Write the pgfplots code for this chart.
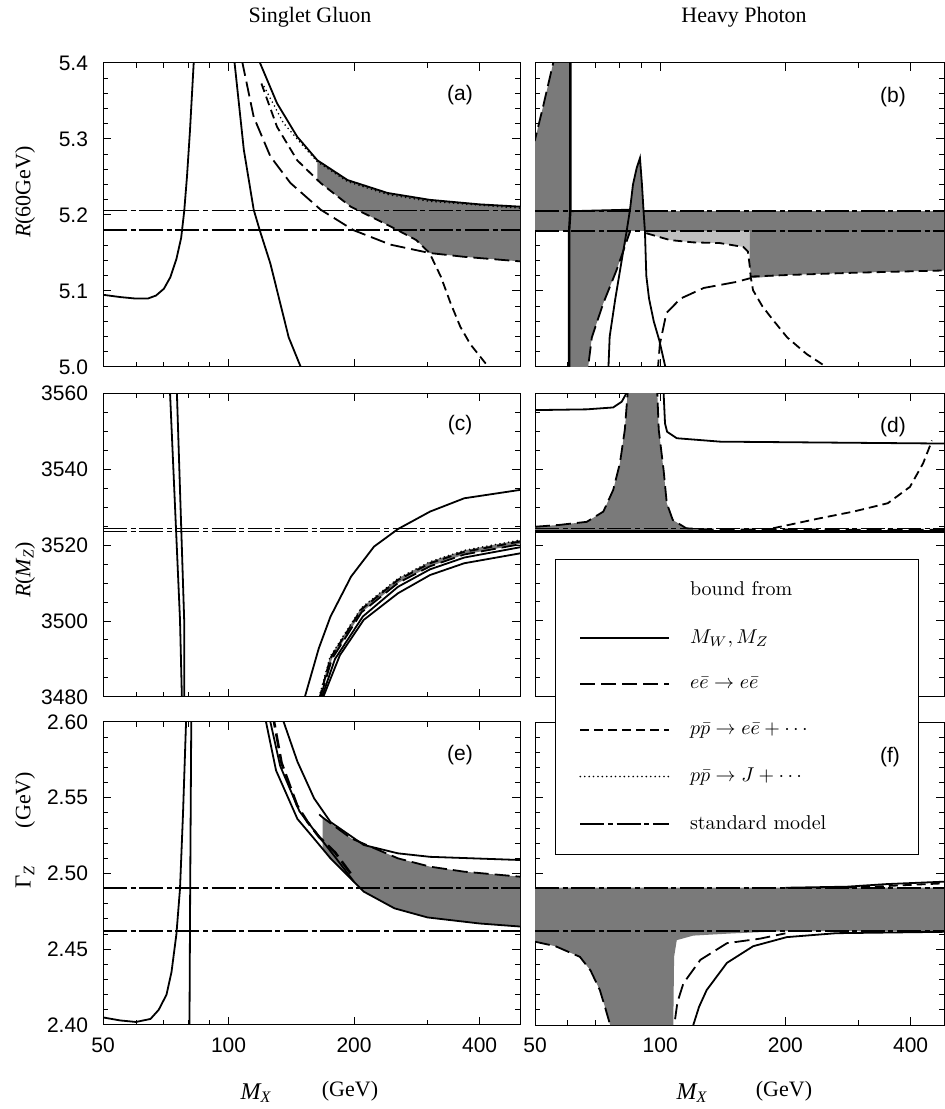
\documentclass[border=0pt]{standalone}
\usepackage{pgfplots}
\pgfplotsset{compat=1.18}
\usepackage{fontspec}
\newfontfamily\tms{Liberation Serif}
\newfontfamily\hv{Liberation Sans}
\definecolor{shadeD}{gray}{0.48}
\definecolor{shadeL}{gray}{0.75}
\tikzset{
  sol/.style={black, line width=0.9pt},
  ldash/.style={black, line width=0.9pt, dash pattern=on 7.5pt off 3pt},
  mdash/.style={black, line width=0.9pt, dash pattern=on 4.5pt off 2.5pt},
  dots/.style={black, line width=0.9pt, line cap=round, dash pattern=on 0pt off 2.2pt},
  smline/.style={black, line width=0.8pt, dash pattern=on 12pt off 1.8pt on 2.5pt off 1.8pt},
}
\begin{document}
\begin{tikzpicture}
\useasboundingbox (0,0) rectangle (472.5pt,554.5pt);
% ---------------- (a)
\begin{axis}[xmode=log, scale only axis, anchor=south west, at={(51.5pt,371pt)},
  width=208.5pt, height=152pt, xmin=50, xmax=500, ymin=5.0, ymax=5.4,
  xtick={50,100,200,400}, xticklabels={}, minor xtick={60,70,80,90,300},
  ytick={5.0,5.1,5.2,5.3,5.4}, yticklabels={5.0,5.1,5.2,5.3,5.4}, minor y tick num=4,
  major tick length=4pt, minor tick length=2.5pt,
  tick style={black, line width=0.5pt}, axis line style={line width=0.5pt},
  tick label style={font=\hv\fontsize{10.5}{12}\selectfont},
  yticklabel style={xshift=-4pt}]
\addplot[fill=shadeD, draw=none] coordinates {(163.3,5.272)(192.9,5.246)(240.6,5.229)(303.4,5.220)(400,5.214)(500,5.211)(500,5.139)(366.8,5.145)(303.4,5.150)(282,5.167)(244.5,5.185)(196.3,5.211)(166.3,5.242)(163.3,5.246)(163.3,5.272)};
\addplot[sol] coordinates {(50,5.095)(55,5.092)(60,5.090)(64,5.090)(67,5.094)(70,5.103)(72.5,5.118)(75,5.142)(77,5.17)(78.3,5.205)(79.5,5.25)(80.8,5.31)(82.5,5.40)(83,5.43)};
\addplot[sol] coordinates {(101,5.44)(103.4,5.40)(108.8,5.286)(114.9,5.207)(118.8,5.180)(126,5.136)(139.4,5.039)(149,5.0)(152,4.99)};
\addplot[ldash] coordinates {(106.5,5.43)(108.0,5.40)(114.9,5.329)(126,5.277)(140.8,5.242)(166.3,5.207)(199.5,5.180)(244.5,5.161)(303.4,5.150)(366.8,5.145)(500,5.139)};
\addplot[sol] coordinates {(116,5.44)(119,5.40)(130.7,5.347)(146.1,5.303)(163.3,5.272)(192.9,5.246)(240.6,5.229)(303.4,5.220)(400,5.214)(500,5.211)};
\addplot[mdash] coordinates {(119.9,5.373)(130.7,5.316)(146.1,5.272)(166.3,5.242)(196.3,5.211)(244.5,5.185)(282,5.167)(303.4,5.150)(322.9,5.119)(340.8,5.084)(359.6,5.053)(380,5.03)(420,5.0)(430,4.99)};
\addplot[dots] coordinates {(121.7,5.369)(135.4,5.321)(151.5,5.290)(163.3,5.270)(192.9,5.244)(240.6,5.227)(303.4,5.218)(500,5.209)};
\addplot[smline] coordinates {(50,5.206)(500,5.206)};
\addplot[smline] coordinates {(50,5.180)(500,5.180)};
\end{axis}
% ---------------- (b)
\begin{axis}[xmode=log, scale only axis, anchor=south west, at={(267.5pt,371pt)},
  width=204.5pt, height=152pt, xmin=50, xmax=481.3, ymin=5.0, ymax=5.4,
  xtick={50,100,200,400}, xticklabels={}, minor xtick={60,70,80,90,300},
  ytick={5.0,5.1,5.2,5.3,5.4}, yticklabels={}, minor y tick num=4,
  major tick length=4pt, minor tick length=2.5pt,
  tick style={black, line width=0.5pt}, axis line style={line width=0.5pt}]
\addplot[fill=shadeD, draw=none] coordinates {(50,5.179)(481.3,5.179)(481.3,5.205)(50,5.205)(50,5.179)};
\addplot[fill=shadeD, draw=none] coordinates {(50,5.205)(50,5.299)(52.3,5.343)(55.3,5.40)(60.8,5.40)(60.8,5.205)(50,5.205)};
\addplot[fill=shadeD, draw=none] coordinates {(60.4,5.179)(60.4,5.0)(67.1,5.0)(68.5,5.039)(73,5.084)(78.6,5.128)(84.6,5.179)(60.4,5.179)};
\addplot[fill=shadeD, draw=none] coordinates {(84.3,5.205)(86,5.24)(87.8,5.262)(89.4,5.275)(90.4,5.24)(91.2,5.205)(84.3,5.205)};
\addplot[fill=shadeL, draw=none] coordinates {(91.9,5.179)(92.6,5.176)(105.6,5.167)(120,5.164)(139.3,5.163)(158.3,5.158)(164,5.152)(164,5.179)(91.9,5.179)};
\addplot[fill=shadeD, draw=none] coordinates {(164,5.179)(164,5.145)(165,5.119)(167.2,5.117)(201.9,5.121)(291.7,5.124)(481.3,5.127)(481.3,5.179)(164,5.179)};
\addplot[ldash] coordinates {(49,5.29)(50,5.299)(52.3,5.343)(55.3,5.40)(56,5.42)};
\addplot[sol, line width=1.2pt] coordinates {(60.8,5.42)(60.8,5.205)(60.4,5.179)(60.4,4.98)};
\addplot[sol] coordinates {(60.8,5.205)(84.6,5.207)};
\addplot[ldash] coordinates {(66.5,4.98)(67.1,5.0)(68.5,5.039)(73,5.084)(78.6,5.128)(84.6,5.178)};
\addplot[sol] coordinates {(75.1,4.99)(75.1,5.0)(75.6,5.04)(78,5.09)(80.5,5.135)(83,5.178)(84.6,5.207)(86,5.24)(87.8,5.262)(89.4,5.275)(90.4,5.24)(91.2,5.205)(91.9,5.178)(92.6,5.12)(94,5.09)(96.5,5.06)(99.5,5.035)(102.9,5.0)(103.5,4.99)};
\addplot[mdash] coordinates {(92.6,5.176)(105.6,5.167)(120,5.164)(139.3,5.163)(158.3,5.158)(162.5,5.152)(164,5.135)(165,5.119)(167.2,5.101)(176,5.08)(186.7,5.062)(201.9,5.039)(225,5.017)(251,5.0)(260,4.99)};
\addplot[mdash] coordinates {(165,5.119)(201.9,5.121)(291.7,5.124)(481.3,5.127)};
\addplot[ldash] coordinates {(98.5,4.99)(98.8,5.0)(99.8,5.03)(103.5,5.071)(111.9,5.090)(127.3,5.104)(152.7,5.112)(165,5.117)};
\addplot[smline] coordinates {(50,5.205)(481.3,5.205)};
\addplot[smline] coordinates {(50,5.179)(481.3,5.179)};
\end{axis}
% ---------------- (c)
\begin{axis}[xmode=log, scale only axis, anchor=south west, at={(51.5pt,206pt)},
  width=208.5pt, height=152pt, xmin=50, xmax=500, ymin=3480, ymax=3560,
  xtick={50,100,200,400}, xticklabels={}, minor xtick={60,70,80,90,300},
  ytick={3480,3500,3520,3540,3560}, yticklabels={3480,3500,3520,3540,3560}, minor y tick num=3,
  major tick length=4pt, minor tick length=2.5pt,
  tick style={black, line width=0.5pt}, axis line style={line width=0.5pt},
  tick label style={font=\hv\fontsize{10.5}{12}\selectfont},
  yticklabel style={xshift=-4pt}]
\addplot[fill=shadeD, draw=none] coordinates {(170,3485.2)(175,3490.5)(207.9,3503.4)(254.9,3511.2)(304.3,3515.6)(367.6,3518.6)(500,3521.3)(500,3520.2)(367.6,3517.5)(304.3,3514.4)(254.9,3510)(208.5,3502.3)(177,3490)(170,3483.5)(170,3485.2)};
\addplot[sol] coordinates {(72.2,3562)(72.4,3560)(76.5,3500.3)(77.3,3480)(77.4,3478)};
\addplot[sol] coordinates {(75.0,3562)(75.2,3560)(78.3,3500)(78.3,3478)};
\addplot[sol] coordinates {(150,3476)(152.4,3480)(164.6,3492.8)(175.5,3501.1)(196.8,3511.7)(223.4,3519.6)(254.9,3524.2)(304.3,3528.8)(367.6,3532.3)(500,3534.5)};
\addplot[mdash] coordinates {(164,3476)(165.5,3480)(175.5,3490.2)(207.9,3503)(254.9,3510.8)(304.3,3515.2)(367.6,3518.2)(500,3520.9)};
\addplot[dots] coordinates {(165,3480)(175,3490.5)(207.9,3503.4)(254.9,3511.2)(304.3,3515.6)(367.6,3518.6)(500,3521.3)};
\addplot[ldash] coordinates {(166.2,3480)(177,3490)(208.5,3502.3)(254.9,3510)(304.3,3514.4)(367.6,3517.5)(500,3520.2)};
\addplot[sol] coordinates {(166,3476)(167.5,3480)(180,3490)(210,3501.2)(254.9,3509)(304.3,3513.6)(367.6,3516.7)(500,3519.4)};
\addplot[sol] coordinates {(167,3476)(168.7,3480)(185,3491)(211,3500.3)(254.9,3507.3)(304.3,3512.1)(367.6,3515.2)(500,3517.8)};
\addplot[smline] coordinates {(50,3524.3)(500,3524.3)};
\addplot[smline] coordinates {(50,3523.6)(500,3523.6)};
\end{axis}
% ---------------- (d)
\begin{axis}[xmode=log, scale only axis, anchor=south west, at={(267.5pt,206pt)},
  width=204.5pt, height=152pt, xmin=50, xmax=481.3, ymin=3480, ymax=3560,
  xtick={50,100,200,400}, xticklabels={}, minor xtick={60,70,80,90,300},
  ytick={3480,3500,3520,3540,3560}, yticklabels={}, minor y tick num=3,
  major tick length=4pt, minor tick length=2.5pt,
  tick style={black, line width=0.5pt}, axis line style={line width=0.5pt}]
\addplot[fill=shadeD, draw=none] coordinates {(50,3524.8)(57.4,3525.3)(66.6,3526.1)(73,3528.8)(77.1,3534.5)(80,3541.5)(82.2,3550.3)(83.5,3560)(98.4,3560)(99.2,3550.3)(101.9,3539.7)(103.7,3531)(107.2,3526.6)(115.5,3524.4)(130,3524)(50,3524)(50,3524.8)};
\addplot[sol] coordinates {(50,3555.5)(66.6,3555.7)(77.1,3556.2)(80.8,3557.7)(83,3560)(84,3562)};
\addplot[sol] coordinates {(101.5,3562)(101.9,3560)(102.7,3552)(103.9,3549.8)(109.6,3548.1)(139.3,3547.2)(291.7,3546.9)(481.3,3546.7)};
\addplot[ldash] coordinates {(50,3524.8)(57.4,3525.3)(66.6,3526.1)(73,3528.8)(77.1,3534.5)(80.0,3541.5)(82.2,3550.3)(83.5,3560)(84,3563)};
\addplot[ldash] coordinates {(98.2,3563)(98.4,3560)(99.2,3550.3)(101.9,3539.7)(103.7,3531)(107.2,3526.6)(115.5,3524.4)(130,3524.1)(481.3,3524.0)};
\addplot[mdash] coordinates {(186.7,3524.4)(241.1,3527)(291.7,3528.8)(352.7,3531)(398.6,3535.3)(428.7,3541.5)(446,3546.3)(450,3547.5)};
\addplot[sol, line width=1.3pt] coordinates {(50,3523.6)(481.3,3523.6)};
\addplot[smline] coordinates {(50,3524.3)(481.3,3524.3)};
\end{axis}
% ---------------- (e)
\begin{axis}[xmode=log, scale only axis, anchor=south west, at={(51.5pt,42pt)},
  width=208.5pt, height=151.5pt, xmin=50, xmax=500, ymin=2.40, ymax=2.60,
  xtick={50,100,200,400}, xticklabels={50,100,200,400}, minor xtick={60,70,80,90,300},
  ytick={2.40,2.45,2.50,2.55,2.60}, yticklabels={2.40,2.45,2.50,2.55,2.60}, minor y tick num=4,
  major tick length=4pt, minor tick length=2.5pt,
  tick style={black, line width=0.5pt}, axis line style={line width=0.5pt},
  tick label style={font=\hv\fontsize{10.5}{12}\selectfont},
  yticklabel style={xshift=-4pt}, xticklabel style={yshift=-3pt}]
\addplot[fill=shadeD, draw=none] coordinates {(168.1,2.5370)(196.8,2.5232)(254.9,2.510)(304.3,2.5045)(367.6,2.5012)(500,2.4979)(500,2.465)(400,2.467)(300,2.471)(250,2.477)(211.1,2.488)(175.6,2.510)(168.1,2.5160)(168.1,2.5370)};
\addplot[sol] coordinates {(50,2.405)(55,2.403)(60,2.402)(65,2.404)(68,2.41)(71,2.42)(73,2.435)(75,2.46)(76.5,2.49)(77.8,2.54)(79.1,2.60)(79.5,2.62)};
\addplot[sol] coordinates {(81.5,2.62)(81.4,2.60)(80.9,2.486)(80.6,2.40)(80.6,2.38)};
\addplot[sol] coordinates {(121.5,2.62)(123,2.60)(130,2.568)(146.3,2.536)(160.4,2.523)(175.6,2.510)(211.1,2.488)(250,2.477)(300,2.471)(400,2.467)(500,2.465)};
\addplot[sol] coordinates {(124.5,2.62)(126,2.60)(133,2.571)(148,2.541)(162,2.527)(180,2.511)(200,2.4945)};
\addplot[ldash, line width=1.3pt] coordinates {(127,2.62)(128.6,2.60)(134,2.573)(146,2.545)(154.7,2.534)(165,2.524)(180,2.514)(200,2.497)};
\addplot[ldash] coordinates {(165,2.539)(168.1,2.5370)(196.8,2.5232)(254.9,2.510)(304.3,2.5045)(367.6,2.5012)(500,2.4979)};
\addplot[sol] coordinates {(134,2.62)(135.6,2.60)(146.3,2.5738)(160.4,2.5496)(175.6,2.534)(211.1,2.5188)(254.9,2.5133)(304.3,2.511)(500,2.5089)};
\addplot[smline] coordinates {(50,2.4906)(500,2.4906)};
\addplot[smline] coordinates {(50,2.462)(500,2.462)};
\end{axis}
% ---------------- (f)
\begin{axis}[xmode=log, scale only axis, anchor=south west, at={(267.5pt,42pt)},
  width=204.5pt, height=151.5pt, xmin=50, xmax=481.3, ymin=2.40, ymax=2.60,
  xtick={50,100,200,400}, xticklabels={50,100,200,400}, minor xtick={60,70,80,90,300},
  ytick={2.40,2.45,2.50,2.55,2.60}, yticklabels={}, minor y tick num=4,
  major tick length=4pt, minor tick length=2.5pt,
  tick style={black, line width=0.5pt}, axis line style={line width=0.5pt},
  tick label style={font=\hv\fontsize{10.5}{12}\selectfont},
  xticklabel style={yshift=-3pt},
  legend image post style={xscale=2.6},
  legend style={at={(0.049,1.538)}, anchor=north west, draw=black, line width=0.4pt, fill=white,
    font=\fontsize{10}{12}\selectfont, inner xsep=12pt, inner ysep=9pt, row sep=11.5pt},
  legend cell align=left]
\addplot[forget plot, fill=shadeD, draw=none] coordinates {(50,2.462)(481.3,2.462)(481.3,2.4906)(50,2.4906)(50,2.462)};
\addplot[forget plot, fill=shadeD, draw=none] coordinates {(50,2.462)(50,2.455)(56,2.452)(64.1,2.445)(68,2.436)(71.6,2.423)(74,2.41)(75.8,2.40)(107.5,2.40)(108,2.445)(109.6,2.456)(120,2.459)(150,2.4605)(200,2.462)(50,2.462)};
\addplot[forget plot, ldash] coordinates {(50,2.455)(56,2.452)(64.1,2.445)(68,2.436)(71.6,2.423)(74,2.41)(75.8,2.40)(76.2,2.39)};
\addplot[forget plot, ldash] coordinates {(107.8,2.39)(108.1,2.40)(110,2.415)(113.7,2.4275)(124.9,2.443)(144.7,2.454)(173.8,2.457)(200,2.4605)};
\addplot[forget plot, sol] coordinates {(119.5,2.39)(120.1,2.40)(124,2.412)(129.3,2.423)(144.7,2.441)(167.3,2.452)(201.5,2.458)(265,2.4606)(481.3,2.4615)};
\addplot[forget plot, sol] coordinates {(200,2.4906)(281.6,2.4913)(350,2.493)(481.3,2.4946)};
\addplot[forget plot, mdash] coordinates {(260,2.4906)(320,2.4912)(400,2.4925)(481.3,2.4935)};
\addplot[forget plot, smline] coordinates {(50,2.4906)(481.3,2.4906)};
\addplot[forget plot, smline] coordinates {(50,2.462)(481.3,2.462)};
\addlegendimage{empty legend}
\addlegendentry{\hskip 8pt bound from\vrule depth 4pt width 0pt}
\addlegendimage{sol}
\addlegendentry{\hskip 8pt{$M_W, M_Z$}}
\addlegendimage{ldash}
\addlegendentry{\hskip 8pt{$e\bar{e}\rightarrow e\bar{e}$}}
\addlegendimage{mdash}
\addlegendentry{\hskip 8pt{$p\bar{p}\rightarrow e\bar{e}+\cdots$}}
\addlegendimage{dots}
\addlegendentry{\hskip 8pt{$p\bar{p}\rightarrow J+\cdots$}}
\addlegendimage{smline}
\addlegendentry{\hskip 8pt standard model\hskip 32pt\vrule depth 8pt width 0pt}
\end{axis}
% ---------------- labels
\node[font=\tms\fontsize{11}{13}\selectfont] at (155pt,546pt) {Singlet Gluon};
\node[font=\tms\fontsize{11}{13}\selectfont] at (372pt,546pt) {Heavy Photon};
\node[font=\tms\fontsize{11}{13}\selectfont, rotate=90] at (12.5pt,458.5pt) {{\itshape R}(60GeV)};
\node[font=\tms\fontsize{11}{13}\selectfont, rotate=90] at (12.5pt,269.5pt) {{\itshape R}({\itshape M}\textsubscript{\itshape Z})};
\node[font=\tms\fontsize{11.5}{13}\selectfont, rotate=90] at (12.5pt,116pt) {Γ\textsubscript{\itshape Z}};
\node[font=\tms\fontsize{11}{13}\selectfont, rotate=90] at (12.5pt,154.5pt) {(GeV)};
\node[font=\tms\fontsize{12}{14}\selectfont] at (128pt,8pt) {\itshape M\textsubscript{X}};
\node[font=\tms\fontsize{11}{13}\selectfont] at (175pt,9pt) {(GeV)};
\node[font=\tms\fontsize{12}{14}\selectfont] at (346pt,8pt) {\itshape M\textsubscript{X}};
\node[font=\tms\fontsize{11}{13}\selectfont] at (392pt,9pt) {(GeV)};
\node[font=\hv\fontsize{10.5}{12}\selectfont] at (230pt,507pt) {(a)};
\node[font=\hv\fontsize{10.5}{12}\selectfont] at (446.5pt,506pt) {(b)};
\node[font=\hv\fontsize{10.5}{12}\selectfont] at (230pt,342pt) {(c)};
\node[font=\hv\fontsize{10.5}{12}\selectfont] at (446.5pt,341pt) {(d)};
\node[font=\hv\fontsize{10.5}{12}\selectfont] at (230pt,177pt) {(e)};
\node[font=\hv\fontsize{10.5}{12}\selectfont] at (445pt,176pt) {(f)};
\end{tikzpicture}
\end{document}
